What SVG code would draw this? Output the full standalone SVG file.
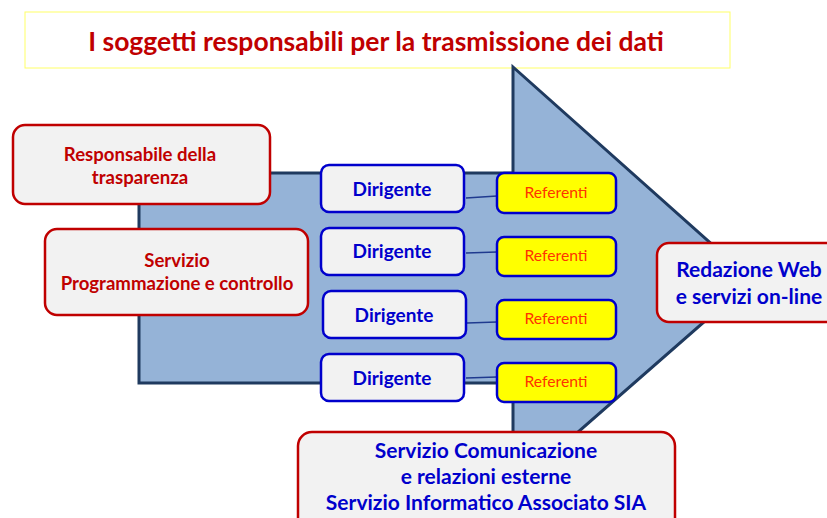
<svg xmlns="http://www.w3.org/2000/svg" width="827" height="518" viewBox="0 0 827 518">
<style>
text{font-family:Lato,"Open Sans","Liberation Sans",sans-serif;text-anchor:middle}
.red{fill:#F2F2F2;stroke:#C00000;stroke-width:2.5}
.dir{fill:#F2F2F2;stroke:#0000CC;stroke-width:2.5}
.ref{fill:#FFFF00;stroke:#0000CC;stroke-width:2.5}
.tr{fill:#C00000;font-weight:bold;font-size:18.6px}
.tb{fill:#0000CC;font-weight:bold;font-size:19px}
.tb2{fill:#0000CC;font-weight:bold;font-size:21px}
.to{fill:#FF3300;font-size:15.7px}
.conn line{stroke:#1F3A8F;stroke-width:1.5}
</style>
<rect width="827" height="518" fill="#FFFFFF"/>
<g id="title">
<rect x="25" y="12" width="705" height="56" fill="#FFFFFF" stroke="#FFFF66" stroke-width="1"/>
<text x="376" y="51" style="fill:#C00000;font-weight:bold;font-size:26.5px">I soggetti responsabili per la trasmissione dei dati</text>
</g>
<g id="arrow">
<path d="M139,173 L513,173 L513,67 L752,280 L513,489 L513,383 L139,383 Z" fill="#95B3D7" stroke="#1F3A5F" stroke-width="3" stroke-linejoin="miter"/>
</g>
<g id="responsabile">
<rect class="red" x="13" y="125" width="257" height="79" rx="12"/>
<text class="tr" x="140" y="161">Responsabile della</text>
<text class="tr" x="140" y="184">trasparenza</text>
</g>
<g id="servizio-programmazione">
<rect class="red" x="45" y="229" width="263" height="86" rx="12"/>
<text class="tr" x="177" y="267">Servizio</text>
<text class="tr" x="177" y="290">Programmazione e controllo</text>
</g>
<g class="conn" id="connectors">
<line x1="466" y1="198" x2="497" y2="196"/>
<line x1="466" y1="253" x2="497" y2="252"/>
<line x1="467" y1="323" x2="497" y2="322"/>
<line x1="466" y1="378" x2="497" y2="377"/>
</g>
<g id="dirigente1"><rect class="dir" x="321" y="165" width="143" height="47" rx="8"/><text class="tb" x="392" y="196">Dirigente</text></g>
<g id="dirigente2"><rect class="dir" x="321" y="228" width="143" height="47" rx="8"/><text class="tb" x="392" y="258">Dirigente</text></g>
<g id="dirigente3"><rect class="dir" x="323" y="291" width="143" height="47" rx="8"/><text class="tb" x="394" y="322">Dirigente</text></g>
<g id="dirigente4"><rect class="dir" x="321" y="354" width="143" height="47" rx="8"/><text class="tb" x="392" y="385">Dirigente</text></g>
<g id="referenti1"><rect class="ref" x="497" y="173" width="119" height="40" rx="7"/><text class="to" x="556" y="198">Referenti</text></g>
<g id="referenti2"><rect class="ref" x="497" y="237" width="119" height="39" rx="7"/><text class="to" x="556" y="261">Referenti</text></g>
<g id="referenti3"><rect class="ref" x="497" y="300" width="119" height="39" rx="7"/><text class="to" x="556" y="324">Referenti</text></g>
<g id="referenti4"><rect class="ref" x="497" y="363" width="119" height="39" rx="7"/><text class="to" x="556" y="387">Referenti</text></g>
<g id="redazione">
<rect class="red" x="657" y="243" width="185" height="79" rx="12"/>
<text class="tb2" x="749" y="277">Redazione Web</text>
<text class="tb2" x="749" y="304">e servizi on-line</text>
</g>
<g id="comunicazione">
<rect class="red" x="298" y="432" width="377" height="100" rx="14"/>
<text class="tb2" x="486" y="458">Servizio Comunicazione</text>
<text class="tb2" x="486" y="484">e relazioni esterne</text>
<text class="tb2" x="486" y="510">Servizio Informatico Associato SIA</text>
</g>
</svg>
